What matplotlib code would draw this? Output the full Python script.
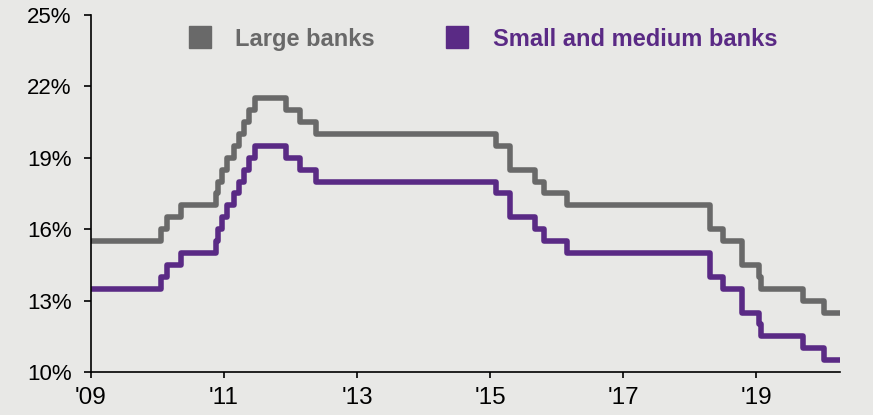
import matplotlib.pyplot as plt
import matplotlib.dates as mdates
import pandas as pd
from matplotlib.lines import Line2D

plt.rcParams["font.family"] = ["Liberation Sans", "DejaVu Sans"]

# reserve requirement ratio change dates and levels (%)
dates = [
    "2009-01-01", "2010-01-18", "2010-02-25", "2010-05-10", "2010-11-16",
    "2010-11-29", "2010-12-20", "2011-01-20", "2011-02-24", "2011-03-25",
    "2011-04-21", "2011-05-18", "2011-06-20", "2011-12-05", "2012-02-24",
    "2012-05-18", "2015-02-05", "2015-04-20", "2015-09-06", "2015-10-24",
    "2016-03-01", "2018-04-25", "2018-07-05", "2018-10-15", "2019-01-15",
    "2019-01-25", "2019-09-16", "2020-01-06", "2020-04-05",
]
large_banks = [
    15.5, 16.0, 16.5, 17.0, 17.5, 18.0, 18.5, 19.0, 19.5, 20.0,
    20.5, 21.0, 21.5, 21.0, 20.5, 20.0, 19.5, 18.5, 18.0, 17.5,
    17.0, 16.0, 15.5, 14.5, 14.0, 13.5, 13.0, 12.5, 12.5,
]
small_medium_banks = [
    13.5, 14.0, 14.5, 15.0, 15.5, 16.0, 16.5, 17.0, 17.5, 18.0,
    18.5, 19.0, 19.5, 19.0, 18.5, 18.0, 17.5, 16.5, 16.0, 15.5,
    15.0, 14.0, 13.5, 12.5, 12.0, 11.5, 11.0, 10.5, 10.5,
]
y_ticks = [10, 13, 16, 19, 22, 25]
x_tick_years = [2009, 2011, 2013, 2015, 2017, 2019]

bg = "#e8e8e6"
gray = "#696969"
purple = "#5a2a85"

x = pd.to_datetime(dates)

fig = plt.figure(figsize=(8.73, 4.15), dpi=100, facecolor=bg)
ax = fig.add_axes([0.1042, 0.1036, 0.858, 0.8603], facecolor=bg)

ax.plot(x, large_banks, drawstyle="steps-post", color=gray, lw=4.0)
ax.plot(x, small_medium_banks, drawstyle="steps-post", color=purple, lw=4.0)

ax.set_ylim(10, 25)
ax.set_yticks(y_ticks)
ax.set_yticklabels([f"{v}%" for v in y_ticks])
ax.set_xlim(pd.Timestamp("2009-01-01"), pd.Timestamp("2020-04-05"))
ax.set_xticks([pd.Timestamp(f"{y}-01-01") for y in x_tick_years])
ax.xaxis.set_major_formatter(mdates.DateFormatter("'%y"))

for side in ["top", "right"]:
    ax.spines[side].set_visible(False)
for side in ["left", "bottom"]:
    ax.spines[side].set_color("black")
    ax.spines[side].set_linewidth(1.2)
ax.tick_params(axis="y", direction="out", length=5, width=1.2,
               labelsize=16, colors="black", pad=9)
ax.tick_params(axis="x", direction="out", length=4.5, width=1.2,
               labelsize=17.5, colors="black", pad=6)

handles = [
    Line2D([], [], marker="s", ls="none", color=gray, markersize=16),
    Line2D([], [], marker="s", ls="none", color=purple, markersize=16),
]
leg = ax.legend(handles, ["Large banks", "Small and medium banks"], ncol=2,
                loc="upper left", bbox_to_anchor=(0.101, 1.024), frameon=False,
                handletextpad=1.0, columnspacing=3.0, handlelength=1.0,
                labelcolor=[gray, purple], prop={"size": 17, "weight": "bold"})

fig.savefig("out.png", dpi=100, facecolor=bg)
